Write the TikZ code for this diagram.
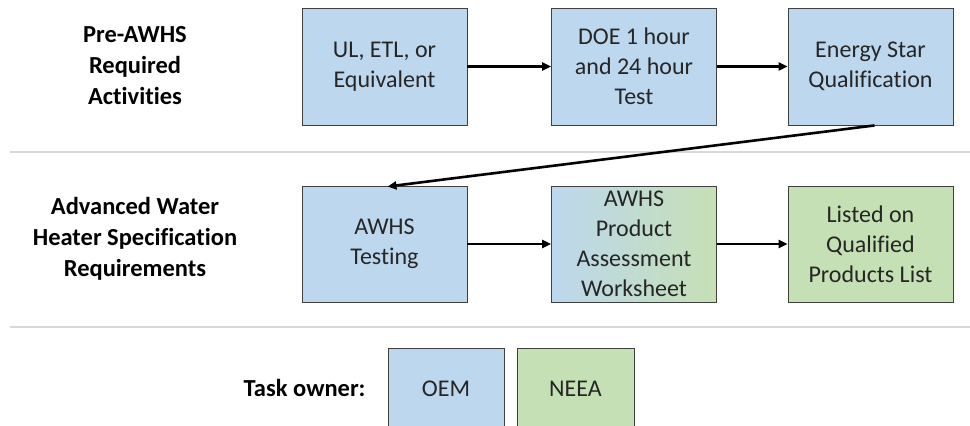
\documentclass[tikz,border=0pt]{standalone}
\usepackage{fontspec}
\setmainfont{Carlito}[Ligatures=NoCommon]
\usetikzlibrary{arrows.meta}
\definecolor{blueF}{HTML}{BDD7EE}
\definecolor{greenF}{HTML}{C5E0B4}
\definecolor{sepC}{HTML}{D9D9D9}
\definecolor{txtC}{HTML}{262626}
\begin{document}
\begin{tikzpicture}[x=1pt,y=-1pt,
  box/.style={draw=black!75, line width=0.9pt, minimum width=165pt, minimum height=117pt,
    align=center, text=txtC, font=\fontsize{24}{30}\selectfont, inner sep=2pt},
  ob/.style={box, fill=blueF},
  nb/.style={box, fill=greenF},
  lab/.style={align=center, font=\fontsize{24.5}{31}\selectfont\bfseries, text=black},
  arr/.style={-{Triangle[length=9pt,width=8pt]}, line width=2.6pt, black},
  sep/.style={draw=sepC, line width=2pt}]
\useasboundingbox (0,0) rectangle (970,426);
% separators
\coordinate (s1a) at (10,152); \coordinate (s1b) at (970,152);
\coordinate (s2a) at (10,327); \coordinate (s2b) at (970,327);
\draw[sep] (s1a) -- (s1b);
\draw[sep] (s2a) -- (s2b);
% left labels
\node[lab] (l1) at (135,66) {Pre-AWHS\\Required\\Activities};
\node[lab] (l2) at (135,239) {Advanced Water\\Heater Specification\\Requirements};
% row 1
\node[ob] (b1) at (384.5,66.5) {UL, ETL, or\\Equivalent};
\node[ob] (b2) at (634,66.5) {DOE 1 hour\\and 24 hour\\Test};
\node[ob] (b3) at (870.5,66.5) {Energy Star\\Qualification};
% row 2
\node[ob, minimum height=116pt] (b4) at (384.5,244) {AWHS\\Testing};
\node[box, minimum height=116pt, left color=blueF, right color=greenF] (b5) at (634,244) {AWHS\\Product\\Assessment\\Worksheet};
\node[nb, minimum height=116pt] (b6) at (870.5,244) {Listed on\\Qualified\\Products List};
% arrows
\draw[arr] (b1) -- (b2);
\draw[arr] (b2) -- (b3);
\draw[arr] ([xshift=4pt]b3.south) -- ([xshift=3pt,yshift=-1pt]b4.north);
\draw[arr] (b4) -- (b5);
\draw[arr] (b5) -- (b6);
% legend
\node[lab, anchor=east] (to) at (369,388) {Task owner:};
\node[ob, minimum width=116pt, minimum height=82pt] (oem) at (446,389) {OEM};
\node[nb, minimum width=117pt, minimum height=82pt] (neea) at (575.5,389) {NEEA};
\end{tikzpicture}
\end{document}
